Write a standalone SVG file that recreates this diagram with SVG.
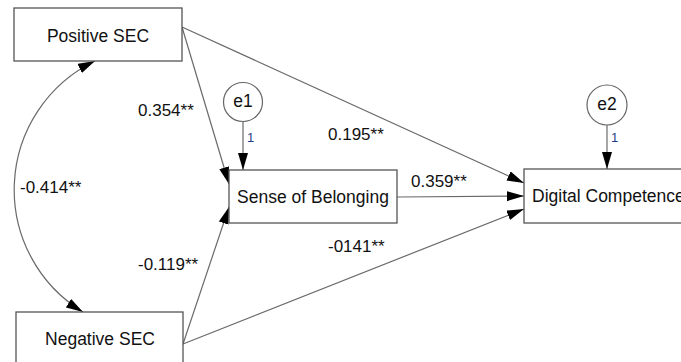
<svg xmlns="http://www.w3.org/2000/svg" width="681" height="362" viewBox="0 0 681 362">
  <defs>
    <marker id="head" markerUnits="userSpaceOnUse" markerWidth="18" markerHeight="11" refX="17" refY="5" orient="auto-start-reverse">
      <path d="M0,0 L17,5 L0,10 z" fill="#000"/>
    </marker>
    <style>
      .box { fill: #fff; stroke: #555; stroke-width: 1.3; }
      .err { fill: #fff; stroke: #666; stroke-width: 1.2; }
      .lbl { font-family: "Liberation Sans", Arial, sans-serif; font-size: 17.5px; fill: #111; }
      .coef { font-family: "Liberation Sans", Arial, sans-serif; font-size: 17px; fill: #111; }
      .one { font-family: "Liberation Sans", Arial, sans-serif; font-size: 13px; fill: #1f3c88; }
      .path { fill: none; stroke: #6a6a6a; stroke-width: 1.2; marker-end: url(#head); }
    </style>
  </defs>
  <rect width="681" height="362" fill="#fff"/>

  <g id="connectors">
    <line class="path" x1="182" y1="27" x2="524" y2="183"/>
    <line class="path" x1="182" y1="27" x2="229" y2="184"/>
    <line class="path" x1="183" y1="344" x2="229" y2="207"/>
    <line class="path" x1="183" y1="344" x2="524" y2="209"/>
    <line class="path" x1="397" y1="197" x2="524" y2="196"/>
    <line class="path" x1="243" y1="122" x2="243" y2="170"/>
    <line class="path" x1="607" y1="125" x2="607" y2="169"/>
    <path class="path" d="M95,61 A143,143 0 0 0 83,312" marker-start="url(#head)"/>
    <text class="coef" x="138" y="116">0.354**</text>
    <text class="coef" x="328" y="140">0.195**</text>
    <text class="coef" x="411" y="187">0.359**</text>
    <text class="coef" x="20" y="193">-0.414**</text>
    <text class="coef" x="138" y="270">-0.119**</text>
    <text class="coef" x="328" y="252">-0141**</text>
    <text class="one" x="247" y="142">1</text>
    <text class="one" x="611" y="142">1</text>
  </g>

  <g id="positive-sec">
    <rect class="box" x="14" y="8" width="168" height="53"/>
    <text class="lbl" x="98" y="42" text-anchor="middle">Positive SEC</text>
  </g>

  <g id="negative-sec">
    <rect class="box" x="16" y="312" width="167" height="60"/>
    <text class="lbl" x="100" y="345" text-anchor="middle">Negative SEC</text>
  </g>

  <g id="sense-of-belonging">
    <rect class="box" x="229" y="170" width="168" height="53"/>
    <text class="lbl" x="313" y="203" text-anchor="middle">Sense of Belonging</text>
  </g>

  <g id="digital-competence">
    <rect class="box" x="524" y="169" width="168" height="54"/>
    <text class="lbl" x="532" y="202">Digital Competence</text>
  </g>

  <g id="e1">
    <circle class="err" cx="243" cy="102" r="19.5"/>
    <text class="lbl" x="243" y="107" text-anchor="middle" font-size="16">e1</text>
  </g>

  <g id="e2">
    <circle class="err" cx="607" cy="105" r="20"/>
    <text class="lbl" x="607" y="110" text-anchor="middle" font-size="16">e2</text>
  </g>
</svg>
